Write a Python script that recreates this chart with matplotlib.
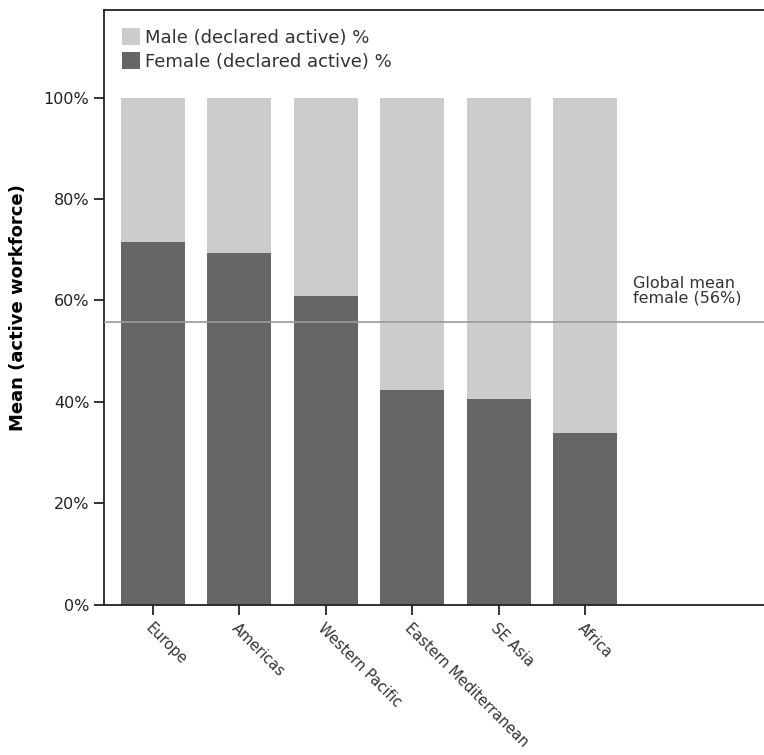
import numpy as np
import matplotlib.pyplot as plt
from matplotlib.patches import Patch

# Data
regions = ['Europe', 'Americas', 'Western Pacific', 'Eastern Mediterranean', 'SE Asia', 'Africa']
female_pct = [71.6, 69.4, 60.9, 42.4, 40.6, 33.9]
male_pct = [100 - f for f in female_pct]
global_mean_female = 55.7
yticks = [0, 20, 40, 60, 80, 100]

male_color = '#cccccc'
female_color = '#666666'

fig = plt.figure(figsize=(7.64, 7.55), dpi=100)
ax = fig.add_axes([0.136, 0.199, 0.864, 0.788])

x = np.arange(len(regions))
ax.bar(x, female_pct, width=0.74, color=female_color, zorder=2)
ax.bar(x, male_pct, width=0.74, bottom=female_pct, color=male_color, zorder=2)

ax.axhline(global_mean_female, color='#999999', lw=1.2, zorder=3)
ax.text(5.55, global_mean_female + 3.4, 'Global mean\nfemale (56%)',
        fontsize=11.5, color='#333333', ha='left', va='bottom', linespacing=0.95)

ax.set_xlim(-0.567, 7.07)
ax.set_ylim(0, 117.3)
ax.set_yticks(yticks)
ax.set_yticklabels([f'{v}%' for v in yticks], fontsize=11.5, color='#222222')
ax.set_xticks(x)
ax.set_xticklabels(regions, rotation=-45, ha='left', va='top',
                   rotation_mode='anchor', fontsize=10.5, color='#333333')
ax.tick_params(axis='both', direction='out', length=7, width=1.3, color='#222222')
ax.tick_params(axis='x', pad=4)

for s in ['left', 'bottom', 'top']:
    ax.spines[s].set_linewidth(1.3)
    ax.spines[s].set_color('#222222')
ax.spines['right'].set_visible(False)

ax.set_ylabel('Mean (active workforce)', fontsize=13, fontweight='bold', labelpad=12)

handles = [Patch(facecolor=male_color, label='Male (declared active) %'),
           Patch(facecolor=female_color, label='Female (declared active) %')]
ax.legend(handles=handles, loc='upper left', frameon=False, fontsize=13,
          handlelength=1.0, handleheight=1.1, handletextpad=0.3,
          labelspacing=0.3, borderaxespad=0.6, bbox_to_anchor=(0.0, 1.0),
          labelcolor='#333333')

fig.savefig('out.png', dpi=100)
